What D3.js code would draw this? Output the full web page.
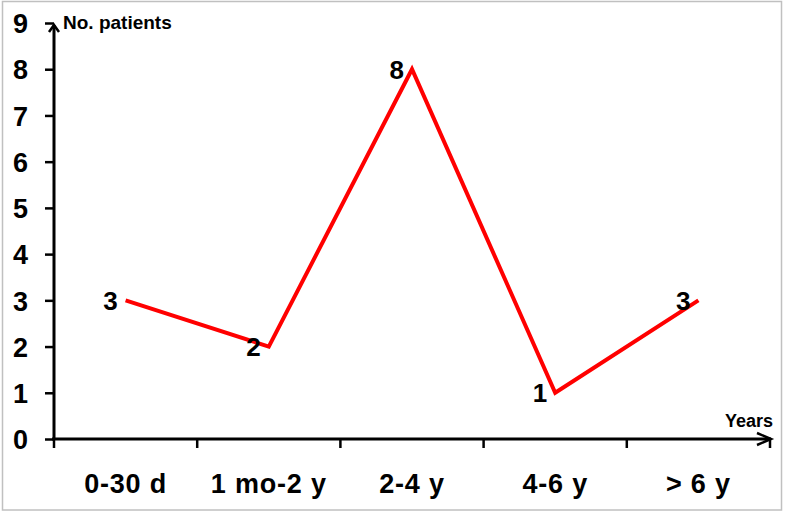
<!DOCTYPE html>
<html>
<head>
<meta charset="utf-8">
<script src="https://cdn.jsdelivr.net/npm/d3@7"></script>
<style>
  body { margin: 0; background: #fff; }
  text { font-family: "Liberation Sans", Arial, sans-serif; font-weight: bold; fill: #000; }
</style>
</head>
<body>
<div id="placeholder"></div>
<script>
// data
var categories = ["0-30 d", "1 mo-2 y", "2-4 y", "4-6 y", "> 6 y"];
var patients = [3, 2, 8, 1, 3];
var yTicks = [0, 1, 2, 3, 4, 5, 6, 7, 8, 9];

var width = 787;
var height = 513;

var svg = d3.select("#placeholder")
  .append("svg")
  .attr("width", width)
  .attr("height", height);

// light grey frame round the picture
svg.append("rect")
  .attr("x", 2.5).attr("y", 1.5)
  .attr("width", 779).attr("height", 508.5)
  .attr("fill", "none")
  .attr("stroke", "#c0c0c0")
  .attr("stroke-width", 1.5);

var x = d3.scaleBand()
  .domain(categories)
  .range([54, 770])
  .paddingInner(0)
  .paddingOuter(0);

var y = d3.scaleLinear()
  .domain([0, 9])
  .range([439, 23]);

// y axis: ticks and labels from d3, own domain line with arrow
var yAxis = svg.append("g")
  .attr("transform", "translate(54,0)")
  .call(d3.axisLeft(y).tickValues(yTicks).tickSize(9).tickPadding(17).tickFormat(d3.format("d")));
yAxis.select(".domain").remove();
yAxis.selectAll(".tick line").attr("stroke", "#000").attr("stroke-width", 2.5);
yAxis.selectAll(".tick text")
  .style("font-size", "27px")
  .style("font-family", "'Liberation Sans', Arial, sans-serif")
  .style("font-weight", "bold")
  .attr("dy", "0.36em");

svg.append("line")
  .attr("x1", 54).attr("x2", 54)
  .attr("y1", y(0) + 1).attr("y2", y(9) + 2)
  .attr("stroke", "#000").attr("stroke-width", 3);
svg.append("path")
  .attr("d", "M49," + (y(9) + 9) + "L54," + (y(9) + 2) + "L59," + (y(9) + 9))
  .attr("fill", "none").attr("stroke", "#000").attr("stroke-width", 2.5);

// x axis
svg.append("line")
  .attr("x1", 52).attr("x2", 771)
  .attr("y1", y(0)).attr("y2", y(0))
  .attr("stroke", "#000").attr("stroke-width", 3);
svg.append("path")
  .attr("d", "M757," + (y(0) - 6) + "L771," + y(0) + "L757," + (y(0) + 6))
  .attr("fill", "none").attr("stroke", "#000").attr("stroke-width", 2.5);

// ticks at band edges
var edges = categories.map(function(c) { return x(c); }).concat([x.range()[1]]);
svg.selectAll(".xtick")
  .data(edges)
  .enter()
  .append("line")
  .attr("class", "xtick")
  .attr("x1", function(d) { return d; })
  .attr("x2", function(d) { return d; })
  .attr("y1", y(0))
  .attr("y2", y(0) + 9)
  .attr("stroke", "#000")
  .attr("stroke-width", 2.5);

svg.selectAll(".xlabel")
  .data(categories)
  .enter()
  .append("text")
  .attr("class", "xlabel")
  .attr("x", function(d) { return x(d) + x.bandwidth() / 2; })
  .attr("y", 493)
  .attr("text-anchor", "middle")
  .style("font-size", "27px")
  .style("letter-spacing", "0.8px")
  .text(function(d) { return d; });

// axis titles
svg.append("text")
  .attr("x", 63).attr("y", 29)
  .style("font-size", "19px")
  .text("No. patients");

svg.append("text")
  .attr("x", 773).attr("y", 427)
  .attr("text-anchor", "end")
  .style("font-size", "18px")
  .text("Years");

// the red line
var line = d3.line()
  .x(function(d, i) { return x(categories[i]) + x.bandwidth() / 2; })
  .y(function(d) { return y(d); });

svg.append("path")
  .datum(patients)
  .attr("d", line)
  .attr("fill", "none")
  .attr("stroke", "#ff0000")
  .attr("stroke-width", 4)
  .attr("stroke-linejoin", "miter");

// value labels left of each point
svg.selectAll(".vlabel")
  .data(patients)
  .enter()
  .append("text")
  .attr("class", "vlabel")
  .attr("x", function(d, i) { return x(categories[i]) + x.bandwidth() / 2 - 8; })
  .attr("y", function(d) { return y(d); })
  .attr("dy", "0.36em")
  .attr("text-anchor", "end")
  .style("font-size", "26px")
  .text(function(d) { return d; });
</script>
</body>
</html>
